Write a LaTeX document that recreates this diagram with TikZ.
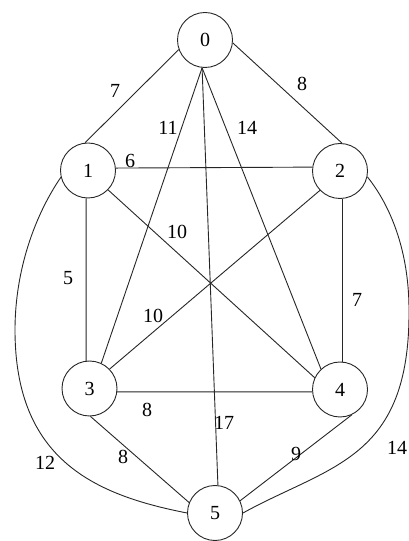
\documentclass[tikz,border=0pt]{standalone}
\usepackage{fontspec}
\setmainfont{Liberation Serif}
\begin{document}
\begin{tikzpicture}[x=1pt,y=1pt,
  vtx/.style={circle,draw=black!85,line width=0.9pt,minimum size=55pt,inner sep=0pt,font=\fontsize{20}{20}\selectfont},
  edge/.style={draw=black!85,line width=0.9pt},
  wt/.style={font=\fontsize{20}{20}\selectfont,inner sep=0pt}]
\useasboundingbox (0,0) rectangle (408,541);
\node[vtx] (n0) at (205,501) {0};
\node[vtx] (n1) at (88,370.5) {1};
\node[vtx] (n2) at (340,370) {2};
\node[vtx] (n3) at (89.5,152.5) {3};
\node[vtx] (n4) at (340,151.5) {4};
\node[vtx] (n5) at (215,28) {5};
\coordinate (c15) at (15,211);
\coordinate (c25) at (409,231);
\draw[edge] (n0.200) -- (n1.96);
\draw[edge] (n0.-6) -- (n2.86);
\draw[edge] (n0.264) -- (n3.65);
\draw[edge] (n0.264) -- (n5.84);
\draw[edge] (n0.264) -- (n4.133);
\draw[edge] (n1.5) -- (n2.172);
\draw[edge] (n1.266) -- (n3.97);
\draw[edge] (n2.-84) -- (n4.84);
\draw[edge] (n3.-7) -- (n4.185);
\draw[edge] (n1.-44) -- (n4.155);
\draw[edge] (n2.224) -- (n3.44);
\draw[edge] (n3.-88) -- (n5.158);
\draw[edge] (n4.-65) -- (n5.26);
\draw[edge] (n1.194) .. controls (35,326) and (15,271) .. (c15)
  .. controls (15,81) and (95,46) .. (n5.180);
\draw[edge] (n2.-12) .. controls (390,336) and (409,291) .. (c25)
  .. controls (410,81) and (330,76) .. (n5.0);
\node[wt] (w01) at (115,450) {7};
\node[wt] (w02) at (302,457) {8};
\node[wt] (w03) at (168,413) {11};
\node[wt] (w04) at (247,413) {14};
\node[wt] (w12) at (130,380) {6};
\node[wt] (w14) at (177,309) {10};
\node[wt] (w13) at (68,263) {5};
\node[wt] (w23) at (153,225) {10};
\node[wt] (w24) at (357,241) {7};
\node[wt] (w34) at (147,131) {8};
\node[wt] (w05) at (224,118) {17};
\node[wt] (w35) at (123,84) {8};
\node[wt] (w45) at (296,87) {9};
\node[wt] (w15) at (45,78) {12};
\node[wt] (w25) at (397,93) {14};
\end{tikzpicture}
\end{document}
